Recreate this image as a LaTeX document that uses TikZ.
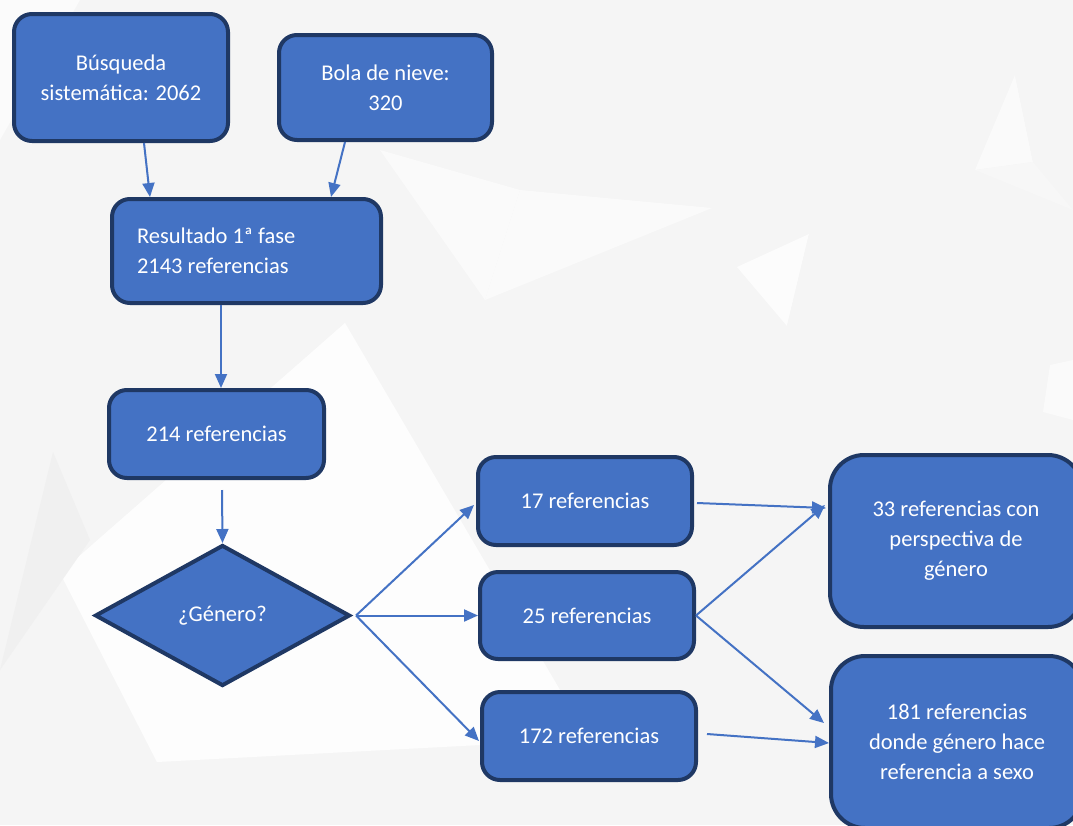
\documentclass[tikz,border=0pt]{standalone}
\usepackage{fontspec}
\setmainfont{Carlito}
\usetikzlibrary{shapes.geometric,arrows.meta,calc}
\definecolor{boxfill}{HTML}{4472C4}
\definecolor{boxline}{HTML}{1F3864}
\definecolor{arrowc}{HTML}{4472C4}
\definecolor{bgc}{HTML}{F5F5F5}
\begin{document}
\begin{tikzpicture}[x=1pt,y=-1pt,
  box/.style={draw=boxline,line width=4pt,fill=boxfill,rounded corners=18pt,
    text=white,font=\fontsize{22.5}{30}\selectfont,align=center,inner sep=0pt},
  bigbox/.style={box,rounded corners=34pt},
  dia/.style={draw=boxline,line width=4pt,fill=boxfill,shape=diamond,
    text=white,font=\fontsize{22.5}{30}\selectfont,inner sep=0pt},
  conn/.style={draw=arrowc,line width=2pt,-{Triangle[length=14pt,width=12pt]}}]
\useasboundingbox (0,0) rectangle (1073,825);
\clip (0,0) rectangle (1073,825);
% background
\fill[bgc] (0,0) rectangle (1073,825);
\fill[white,opacity=0.85] (60,573) -- (345,323) -- (560,690) -- (480,745) -- (157,762) -- cycle;
\fill[black!6] (53,452) -- (90,540) -- (0,670) -- cycle;
\fill[white,opacity=0.6] (0,0) -- (80,0) -- (0,140) -- cycle;
\fill[white,opacity=0.5] (380,150) -- (520,190) -- (485,300) -- cycle;
\fill[black!2] (520,190) -- (712,208) -- (485,300) -- cycle;
\fill[white,opacity=0.7] (737,267) -- (809,234) -- (787,326) -- cycle;
\fill[black!4] (809,234) -- (855,298) -- (787,326) -- cycle;
\fill[white,opacity=0.5] (1015,75) -- (1033,162) -- (975,170) -- cycle;
\fill[black!4] (1015,75) -- (1073,100) -- (1073,145) -- (1033,162) -- cycle;
\fill[black!3] (975,170) -- (1033,162) -- (1073,210) -- cycle;
\fill[white,opacity=0.5] (1050,365) -- (1073,360) -- (1073,420) -- (1043,412) -- cycle;
% nodes
\node[box,minimum width=214pt,minimum height=127pt] (bus) at (121,77.5) {Búsqueda\\sistemática: 2062};
\node[box,minimum width=213pt,minimum height=105pt] (bola) at (385.5,87.5) {Bola de nieve:\\320};
\node[box,minimum width=269pt,minimum height=104pt,align=flush left,text width=219pt] (res) at (246.5,251) {Resultado 1ª fase\\2143 referencias};
\node[box,minimum width=215pt,minimum height=88pt] (r214) at (216.5,434) {214 referencias};
\node[dia,minimum width=255pt,minimum height=141pt,shape aspect=1.81] (gen) at (222.5,615.5) {¿Género?};
\node[box,minimum width=214pt,minimum height=88pt] (r17) at (585,501) {17 referencias};
\node[box,minimum width=214pt,minimum height=87pt] (r25) at (587,615.5) {25 referencias};
\node[box,minimum width=214pt,minimum height=88pt] (r172) at (589,736) {172 referencias};
\node[bigbox,minimum width=252pt,minimum height=172pt] (r33) at (956,541) {33 referencias con\\perspectiva de\\género};
\node[bigbox,minimum width=252pt,minimum height=172pt] (r181) at (957,742) {181 referencias\\donde género hace\\referencia a sexo};
% connectors
\draw[conn] ($(bus.south)+(23,0)$) -- ($(res.north)+(-96.5,0)$);
\draw[conn] ($(bola.south)+(-40.5,0)$) -- ($(res.north)+(84.5,0)$);
\draw[conn] ($(res.south)+(-25.5,0)$) -- ($(r214.north)+(4.5,0)$);
\draw[conn] ($(r214.south)+(5.5,10)$) -- (gen.north);
\draw[conn] ($(gen.east)+(4,0)$) -- ($(r17.west)+(-2,4)$);
\draw[conn] ($(gen.east)+(4,0)$) -- (r25.west);
\draw[conn] ($(gen.east)+(4,0)$) -- ($(r172.west)+(-1,5)$);
\draw[conn] ($(r17.east)+(3,2)$) -- ($(r33.west)+(-2,-33)$);
\draw[conn] (r25.east) -- ($(r33.west)+(-3,-36)$);
\draw[conn] (r25.east) -- ($(r181.west)+(-5,-19)$);
\draw[conn] ($(r172.east)+(9,-2)$) -- ($(r181.west)+(0,1)$);
\end{tikzpicture}
\end{document}
